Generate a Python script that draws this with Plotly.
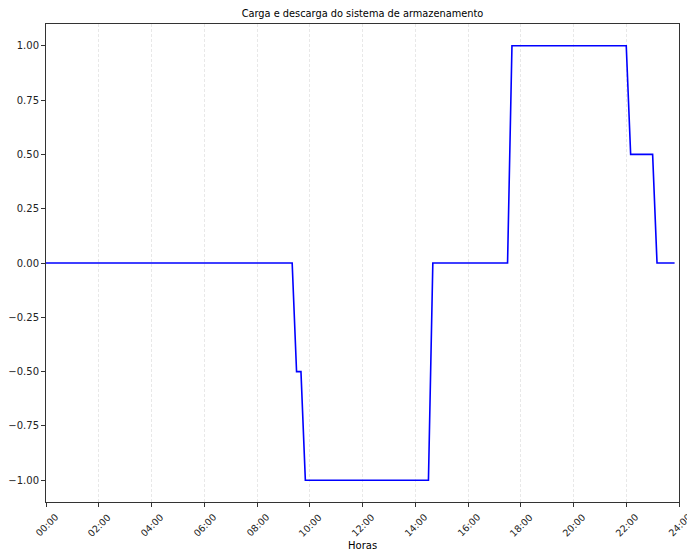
import plotly.graph_objects as go

# Vertices of the charge/discharge curve (10-minute resolution data)
times = ["00:00", "09:20", "09:30", "09:40", "09:50", "14:30", "14:40",
         "17:30", "17:40", "22:00", "22:10", "23:00", "23:10", "23:50"]
values = [0, 0, -0.5, -0.5, -1, -1, 0, 0, 1, 1, 0.5, 0.5, 0, 0]

tick_hours = [0, 2, 4, 6, 8, 10, 12, 14, 16, 18, 20, 22, 24]
tick_labels = ["00:00", "02:00", "04:00", "06:00", "08:00", "10:00", "12:00",
               "14:00", "16:00", "18:00", "20:00", "22:00", "24:00"]
y_ticks = [-1.0, -0.75, -0.5, -0.25, 0.0, 0.25, 0.5, 0.75, 1.0]


def to_hours(s):
    h, m = s.split(":")
    return int(h) + int(m) / 60.0


x = [to_hours(t) for t in times]

fig = go.Figure()
fig.add_trace(go.Scatter(x=x, y=values, mode="lines",
                         line=dict(color="#0000ff", width=1.6),
                         showlegend=False, hoverinfo="skip"))

# rotated tick labels centred under their ticks (matplotlib style)
for hv, lab in zip(tick_hours, tick_labels):
    fig.add_annotation(x=hv, xref="x", y=0, yref="paper", yshift=-23,
                       text=lab, showarrow=False, textangle=-45,
                       xanchor="center", yanchor="middle",
                       font=dict(size=9.5, color="#222222"))

fig.update_layout(
    width=687, height=550,
    margin=dict(l=46, r=8, t=24, b=48, autoexpand=False),
    paper_bgcolor="white", plot_bgcolor="white",
    font=dict(family="DejaVu Sans", size=10, color="#222222"),
    title=dict(text="Carga e descarga do sistema de armazenamento",
               x=0.5, xanchor="center", xref="paper",
               y=1, yref="container", yanchor="top", pad=dict(t=10),
               font=dict(size=9.8, color="#000000")),
)

fig.update_xaxes(
    range=[0, 24], tickmode="array", tickvals=tick_hours,
    showticklabels=False, automargin=False,
    ticks="outside", ticklen=4, tickcolor="#333333",
    showline=True, linecolor="#333333", linewidth=1, mirror=True,
    showgrid=True, gridcolor="#e8e8e8", griddash="3px,2px", gridwidth=1,
    zeroline=False,
)
fig.add_annotation(x=0.5, xref="paper", y=0, yref="paper", yshift=-43,
                   text="Horas", showarrow=False,
                   xanchor="center", yanchor="middle",
                   font=dict(size=10, color="#000000"))
fig.update_yaxes(
    range=[-1.1, 1.1], tickmode="array", tickvals=y_ticks, tickformat=".2f",
    automargin=False,
    ticks="outside", ticklen=4, tickcolor="#333333",
    showline=True, linecolor="#333333", linewidth=1, mirror=True,
    showgrid=False, zeroline=False,
    tickfont=dict(size=10),
)

fig.write_html(
    "out.html",
    config={"displayModeBar": False},
    post_script="document.body.style.margin='0';"
                "document.body.style.overflow='hidden';",
)
